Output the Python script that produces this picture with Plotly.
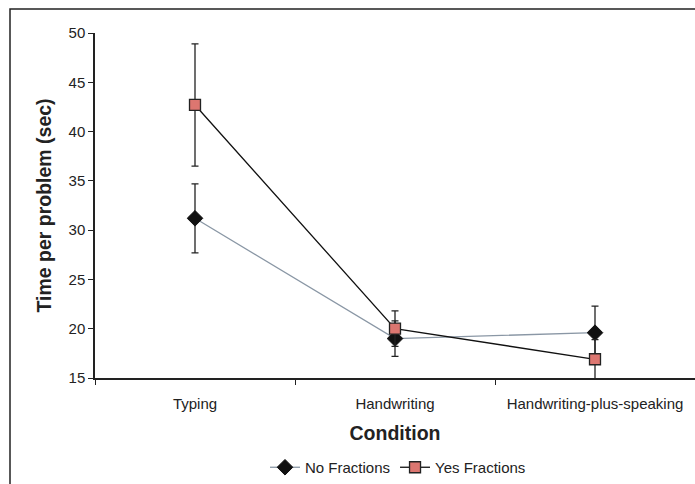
import plotly.graph_objects as go

categories = ["Typing", "Handwriting", "Handwriting-plus-speaking"]
no_fractions = [31.2, 19.0, 19.6]
no_fractions_err = [3.5, 1.8, 2.7]
yes_fractions = [42.7, 20.0, 16.9]
yes_fractions_err = [6.2, 1.8, 2.0]
y_ticks = [15, 20, 25, 30, 35, 40, 45, 50]

xpos = list(range(len(categories)))
FONT = "Liberation Sans, Arial, sans-serif"

fig = go.Figure()
fig.add_trace(go.Scatter(
    x=xpos, y=no_fractions, name="No Fractions", mode="lines+markers",
    line=dict(color="#8a97a5", width=1.3),
    marker=dict(symbol="diamond", size=12, color="#111111",
                line=dict(color="#111111", width=1)),
    error_y=dict(type="data", array=no_fractions_err, visible=True,
                 color="#222222", thickness=1.3, width=3.5),
))
fig.add_trace(go.Scatter(
    x=xpos, y=yes_fractions, name="Yes Fractions", mode="lines+markers",
    line=dict(color="#111111", width=1.3),
    marker=dict(symbol="square", size=11, color="#dc7670",
                line=dict(color="#222222", width=1.3)),
    error_y=dict(type="data", array=yes_fractions_err, visible=True,
                 color="#222222", thickness=1.3, width=3.5),
))

FW, FH = 695, 484
PL, PT, PB = 95, 33, 378          # plot area in figure coords
PW = FW - PL
PH = PB - PT

# outer chart frame (extends beyond right/bottom edges like the source)
fig.add_shape(type="rect", xref="paper", yref="paper",
              x0=(10 - PL) / PW, x1=1.2, y0=-0.6, y1=(PB - 9) / PH,
              line=dict(color="#222222", width=1.5), layer="below")

fig.update_layout(
    width=FW, height=FH,
    margin=dict(l=PL, r=0, t=PT, b=FH - PB),
    paper_bgcolor="white", plot_bgcolor="white",
    font=dict(family=FONT, size=15, color="#222222"),
    showlegend=True,
    legend=dict(orientation="h", x=(398 - PL) / PW, xanchor="center",
                y=-(FH - PB) / PH, yanchor="bottom",
                font=dict(size=15), itemwidth=30, tracegroupgap=0,
                bgcolor="rgba(0,0,0,0)"),
    xaxis=dict(
        range=[-0.5, 2.5], tickvals=xpos, ticktext=categories,
        ticks="outside", ticklen=11, tickcolor="rgba(0,0,0,0)",
        showline=True, linecolor="#222222", linewidth=1.5,
        showgrid=False, zeroline=False,
        tickfont=dict(size=15, color="#222222"),
        minor=dict(ticks="outside", ticklen=5, tick0=0.5, dtick=1,
                   tickcolor="#222222", tickwidth=1.3, showgrid=False),
        title=dict(text="<b>Condition</b>", font=dict(size=19.5, color="#222222"), standoff=16),
    ),
    yaxis=dict(
        range=[15, 50], tickvals=y_ticks,
        ticks="outside", ticklen=5, tickcolor="#222222", tickwidth=1.3,
        showline=True, linecolor="#222222", linewidth=1.5,
        showgrid=False, zeroline=False,
        tickfont=dict(size=15, color="#222222"),
        title=dict(text="<b>Time per problem (sec)</b>", font=dict(size=19.5, color="#222222"), standoff=12),
    ),
)

# remove the browser's default 8px page margin so the figure fills the window
fig.write_html("out.html", config={"displayModeBar": False},
               post_script="document.body.style.margin='0';document.body.style.overflow='hidden';")
